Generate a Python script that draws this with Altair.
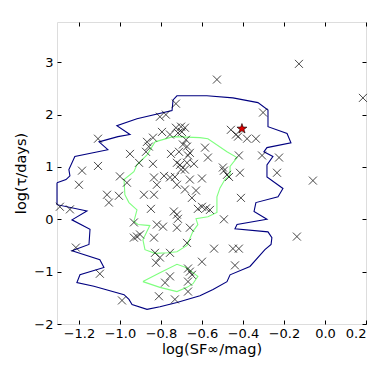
import altair as alt
import pandas as pd

X_DOMAIN = [-1.307, 0.2]
Y_DOMAIN = [-2.0, 3.77]
X_TICKS = [-1.2, -1.0, -0.8, -0.6, -0.4, -0.2, 0.0, 0.2]
Y_TICKS = [-2, -1, 0, 1, 2, 3]

pt_x = [-0.527, -0.127, 0.185, -0.727, -0.805, -0.776, -0.302, -1.107, -0.868, -0.839,
        -0.795, -0.756, -0.727, -0.702, -0.683, -0.698, -0.717, -0.459, -0.434, -0.424,
        -0.380, -0.337, -0.859, -0.678, -0.693, -0.673, -0.585, -0.751, -0.712, -0.659,
        -0.668, -0.951, -0.873, -0.571, -0.420, -0.307, -0.224, -1.107, -1.185, -0.907,
        -0.839, -0.722, -0.707, -0.673, -0.639, -0.498, -0.493, -0.478, -0.468, -0.415,
        -0.234, -0.059, -1.200, -1.000, -0.966, -0.834, -0.820, -1.063, -1.005, -0.883,
        -0.834, -0.600, -0.410, -0.620, -0.600, -0.580, -0.561, -0.493, -0.137, -0.541,
        -0.449, -0.420, -0.600, -0.439, -1.293, -1.244, -1.215, -1.098, -0.990, -1.054,
        -0.932, -0.917, -0.902, -0.932, -0.834, -0.849, -0.820, -0.790, -0.829, -0.824,
        -0.810, -0.649, -0.737, -0.722, -0.717, -0.722, -0.659, -0.673, -0.805, -0.756,
        -0.659, -0.649, -0.668, -0.756, -0.780, -0.668, -0.668, -0.732, -0.785, -0.756,
        -0.732, -0.702, -0.683, -0.722, -0.683, -0.629, -0.659]
pt_y = [2.67, 2.97, 2.32, 2.21, 1.96, 2.00, 2.04, 1.54, 1.48, 1.56,
        1.67, 1.62, 1.75, 1.77, 1.75, 1.67, 1.65, 1.71, 1.62, 1.58,
        1.54, 1.54, 1.39, 1.52, 1.43, 1.39, 1.37, 1.25, 1.29, 1.27,
        1.22, 1.25, 1.29, 1.18, 1.22, 1.22, 1.18, 1.02, 0.93, 1.08,
        1.06, 1.08, 1.04, 1.08, 1.06, 0.99, 0.93, 0.85, 0.81, 0.89,
        0.89, 0.74, 0.66, 0.82, 0.70, 0.80, 0.66, 0.47, 0.45, 0.47,
        0.47, 0.78, 0.41, 0.20, 0.24, 0.21, 0.18, 0.00, -0.33, -0.56,
        -0.56, -0.56, -0.81, -0.88, 0.24, 0.19, -0.54, -1.04, -1.55, 0.32,
        -0.06, -0.33, -0.29, -0.35, -0.35, 0.20, -0.10, -0.14, -0.64, -0.83,
        -1.47, 0.41, 0.15, 0.09, 0.01, -0.16, -0.16, -0.45, -0.73, -0.64,
        -1.00, -1.06, -0.94, -1.09, -1.21, -1.19, -1.38, -1.53, 0.83, 0.80,
        0.81, 0.95, 0.95, 0.66, 0.57, 0.55, 0.76]

star_x = [-0.405]
star_y = [1.73]

blue_x = [-1.307, -1.263, -1.244, -1.249, -1.220, -1.059, -1.102, -1.010, -0.951, -1.015,
          -0.917, -0.746, -0.741, -0.722, -0.576, -0.449, -0.327, -0.278, -0.278, -0.185,
          -0.166, -0.283, -0.298, -0.254, -0.283, -0.283, -0.205, -0.229, -0.337, -0.346,
          -0.283, -0.429, -0.439, -0.278, -0.259, -0.263, -0.293, -0.366, -0.463, -0.478,
          -0.546, -0.610, -0.722, -0.805, -0.868, -0.941, -0.956, -0.980, -1.127, -1.210,
          -1.195, -1.078, -1.098, -1.234, -1.151, -1.146, -1.234, -1.161, -1.307, -1.307]
blue_y = [0.70, 0.76, 0.83, 0.95, 1.20, 1.33, 1.48, 1.58, 1.62, 1.79,
          1.92, 2.08, 2.28, 2.36, 2.36, 2.32, 2.23, 2.09, 1.77, 1.64,
          1.46, 1.37, 1.29, 1.20, 1.04, 0.81, 0.59, 0.43, 0.32, 0.15,
          0.00, -0.10, -0.18, -0.24, -0.35, -0.48, -0.58, -0.90, -1.06, -1.19,
          -1.34, -1.46, -1.59, -1.67, -1.72, -1.63, -1.53, -1.44, -1.28, -1.21,
          -1.06, -0.92, -0.77, -0.60, -0.48, -0.19, -0.01, 0.16, 0.28, 0.70]

green_x = [-0.829, -0.741, -0.610, -0.571, -0.478, -0.429, -0.463, -0.463, -0.488, -0.512,
           -0.527, -0.527, -0.571, -0.629, -0.620, -0.644, -0.673, -0.722, -0.766, -0.829,
           -0.878, -0.888, -0.868, -0.854, -0.912, -0.932, -0.917, -0.956, -0.976, -0.980,
           -0.932, -0.917, -0.868, -0.829]
green_y = [1.48, 1.58, 1.56, 1.54, 1.29, 1.18, 1.01, 0.85, 0.76, 0.60,
           0.43, 0.13, 0.05, 0.01, -0.10, -0.23, -0.50, -0.62, -0.64, -0.65,
           -0.58, -0.39, -0.23, -0.12, -0.10, -0.04, 0.18, 0.32, 0.47, 0.76,
           0.91, 1.04, 1.23, 1.48]

island_x = [-0.888, -0.805, -0.722, -0.678, -0.620, -0.644, -0.673, -0.722, -0.805, -0.888]
island_y = [-1.19, -1.02, -0.86, -0.92, -1.09, -1.23, -1.30, -1.38, -1.30, -1.19]

pts = pd.DataFrame({"x": pt_x, "y": pt_y})
star = pd.DataFrame({"x": star_x, "y": star_y})
blue = pd.DataFrame({"x": blue_x, "y": blue_y, "i": list(range(len(blue_x)))})
green = pd.concat([
    pd.DataFrame({"x": green_x, "y": green_y, "i": list(range(len(green_x))), "piece": "a"}),
    pd.DataFrame({"x": island_x, "y": island_y, "i": list(range(len(island_x))), "piece": "b"}),
])

FONT = "DejaVu Sans"
xs = alt.Scale(domain=X_DOMAIN, nice=False, zero=False)
ys = alt.Scale(domain=Y_DOMAIN, nice=False, zero=False)

common_axis = dict(offset=-4, tickSize=4, domain=False, grid=False, tickColor="black",
                   tickWidth=1, labelColor="black", labelFont=FONT, labelFontSize=13,
                   titleFont=FONT, titleFontSize=14.5, titleFontWeight="normal", titleColor="black")

x_bottom = alt.Axis(orient="bottom", values=X_TICKS, format=".1f", labelPadding=3,
                    title="log(SF∞/mag)", titlePadding=2, **common_axis)
y_left = alt.Axis(orient="left", values=Y_TICKS, format="d", labelPadding=4,
                  title="log(τ/days)", titlePadding=5, **common_axis)
x_top = alt.Axis(orient="top", values=X_TICKS, labels=False, title="", **common_axis)
y_right = alt.Axis(orient="right", values=Y_TICKS, labels=False, title="", **common_axis)

x_marker = "M-1,-1L1,1M-1,1L1,-1"
star_path = ("M0,-1L0.235,-0.324L0.951,-0.309L0.38,0.124L0.588,0.809L0,0.4L-0.588,0.809"
             "L-0.38,0.124L-0.951,-0.309L-0.235,-0.324Z")

blue_line = alt.Chart(blue).mark_line(color="#000080", strokeWidth=1.1).encode(
    x=alt.X("x:Q", scale=xs, axis=x_top),
    y=alt.Y("y:Q", scale=ys, axis=y_right),
    order="i:Q",
)
green_line = alt.Chart(green).mark_line(color="#7fff7f", strokeWidth=1.1).encode(
    x=alt.X("x:Q", scale=xs, axis=None),
    y=alt.Y("y:Q", scale=ys, axis=None),
    order="i:Q",
    detail="piece:N",
)
points = alt.Chart(pts).mark_point(shape=x_marker, size=64, filled=False, color="black",
                                   strokeWidth=0.9, opacity=0.8).encode(
    x=alt.X("x:Q", scale=xs, axis=x_bottom),
    y=alt.Y("y:Q", scale=ys, axis=y_left),
)
star_layer = alt.Chart(star).mark_point(shape=star_path, size=110, filled=True, fill="#dd0000",
                                        stroke="black", strokeWidth=0.6, opacity=1).encode(
    x=alt.X("x:Q", scale=xs, axis=None),
    y=alt.Y("y:Q", scale=ys, axis=None),
)

chart = alt.layer(blue_line, green_line, points, star_layer).resolve_axis(
    x="independent", y="independent"
).properties(
    width=309, height=302,
    autosize=alt.AutoSizeParams(type="none"),
    padding={"left": 49, "top": 14, "right": 16, "bottom": 40},
).configure_view(stroke="black", strokeWidth=1.2).configure(background="white")

chart.save("out.html", embed_options={"renderer": "svg", "actions": False})
